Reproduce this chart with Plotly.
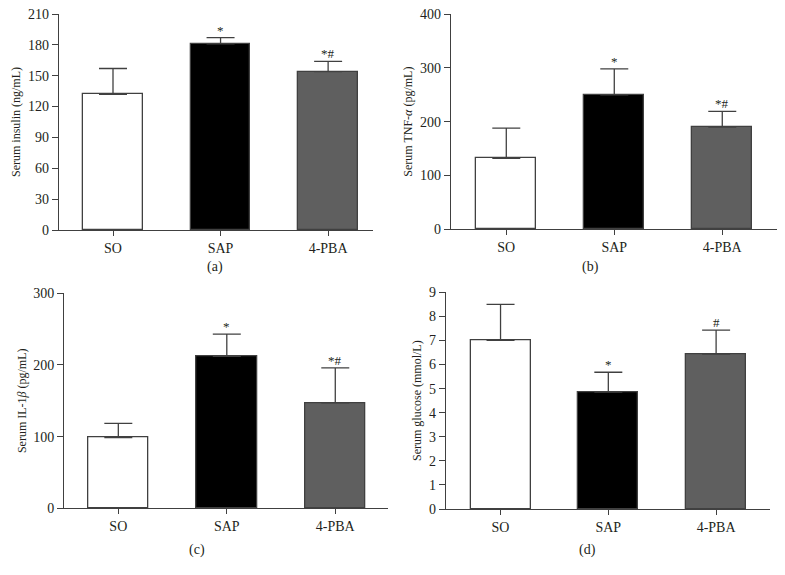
import plotly.graph_objects as go

groups = ["SO", "SAP", "4-PBA"]
bar_colors = ["#ffffff", "#000000", "#5f5f5f"]

insulin_mean = [132, 181, 154]
insulin_err = [25, 6, 10]
insulin_sig = ["", "*", "*#"]

tnf_mean = [132, 250, 190]
tnf_err = [56, 48, 29]
tnf_sig = ["", "*", "*#"]

il1b_mean = [98.5, 212, 147]
il1b_err = [20, 31, 49]
il1b_sig = ["", "*", "*#"]

glucose_mean = [7.0, 4.85, 6.43]
glucose_err = [1.5, 0.83, 1.0]
glucose_sig = ["", "*", "#"]

W, H, OFF = 785, 575, 8  # page body margin offset


def X(px):
    return (px - OFF) / W


def Y(px):
    return 1 - (px - OFF) / H


panels = [
    dict(mean=insulin_mean, err=insulin_err, sig=insulin_sig,
         title="Serum insulin (ng/mL)", yrange=[0, 210], dtick=30,
         xdom=[X(59), X(373.3)], ydom=[Y(230), Y(14)], xr=[-0.502, 2.42], label="(a)",
         lx=X(215), ly=Y(267)),
    dict(mean=tnf_mean, err=tnf_err, sig=tnf_sig,
         title="Serum TNF-<i>α</i> (pg/mL)", yrange=[0, 400], dtick=100,
         xdom=[X(451), X(776.7)], ydom=[Y(229.3), Y(14)], xr=[-0.512, 2.504], label="(b)",
         lx=X(590), ly=Y(267)),
    dict(mean=il1b_mean, err=il1b_err, sig=il1b_sig,
         title="Serum IL-1<i>β</i> (pg/mL)", yrange=[0, 300], dtick=100,
         xdom=[X(64.3), X(388)], ydom=[Y(508.3), Y(293.3)], xr=[-0.498, 2.486], label="(c)",
         lx=X(197), ly=Y(550)),
    dict(mean=glucose_mean, err=glucose_err, sig=glucose_sig,
         title="Serum glucose (mmol/L)", yrange=[0, 9], dtick=1,
         xdom=[X(446), X(770)], ydom=[Y(509), Y(292.3)], xr=[-0.506, 2.50], label="(d)",
         lx=X(587), ly=Y(550)),
]

FONT = "Liberation Serif"
TXT = "#231f20"
LINE = "#404040"
BAR_EDGE = "#404040"

fig = go.Figure()
layout = dict(
    template="none",
    width=W, height=H, margin=dict(l=0, r=0, t=0, b=0, pad=0, autoexpand=False),
    paper_bgcolor="white", plot_bgcolor="white", showlegend=False,
    font=dict(family=FONT, size=14, color=TXT), bargap=0,
)
annotations = []
for i, p in enumerate(panels):
    n = "" if i == 0 else str(i + 1)
    xa, ya = "x" + n, "y" + n
    fig.add_trace(go.Bar(
        x=list(range(len(groups))), y=p["mean"], width=0.556,
        marker=dict(color=bar_colors, line=dict(color=BAR_EDGE, width=1.3)),
        error_y=dict(type="data", symmetric=False, array=p["err"],
                     arrayminus=[0] * len(groups), color=LINE, thickness=1.3, width=14),
        xaxis=xa, yaxis=ya, hoverinfo="skip",
    ))
    layout["xaxis" + n] = dict(
        domain=p["xdom"], anchor=ya, range=p["xr"], tickmode="array", automargin=False,
        tickvals=list(range(len(groups))), ticktext=groups, showgrid=False, zeroline=False,
        showline=True, linecolor=LINE, linewidth=1.3, ticks="outside", ticklen=5,
        tickcolor=LINE, tickwidth=1.3, tickfont=dict(size=14, family=FONT, color=TXT),
        ticklabeloverflow="allow",
    )
    layout["yaxis" + n] = dict(
        domain=p["ydom"], anchor=xa, range=p["yrange"], dtick=p["dtick"], tick0=0,
        automargin=False, ticklabeloverflow="allow",
        showgrid=False, zeroline=False, showline=True, linecolor=LINE, linewidth=1.3,
        ticks="outside", ticklen=6, tickcolor=LINE, tickwidth=1.3,
        tickfont=dict(size=14, family=FONT, color=TXT),
        title=dict(text=p["title"], font=dict(size=12, family=FONT, color=TXT), standoff=4),
    )
    for j, s in enumerate(p["sig"]):
        if s:
            annotations.append(dict(
                x=j, y=p["mean"][j] + p["err"][j], xref=xa, yref=ya, text=s,
                showarrow=False, yanchor="bottom", yshift=-2,
                font=dict(size=13, family=FONT, color=TXT)))
    annotations.append(dict(
        x=p["lx"], y=p["ly"], xref="paper", yref="paper", text=p["label"],
        showarrow=False, xanchor="center", yanchor="middle",
        font=dict(size=14, family=FONT, color=TXT)))

layout["annotations"] = annotations
fig.update_layout(**layout)
fig.write_html("out.html")
